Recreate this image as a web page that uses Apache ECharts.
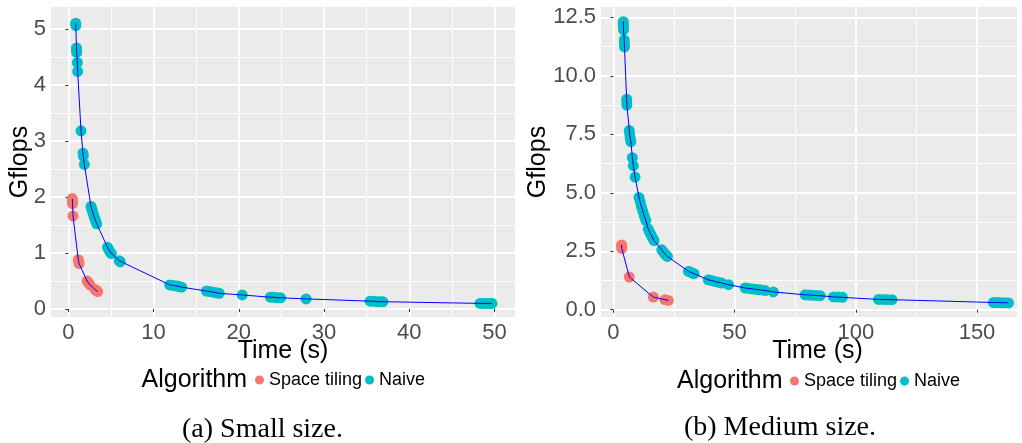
<!DOCTYPE html>
<html>
<head>
<meta charset="utf-8">
<script src="https://cdn.jsdelivr.net/npm/echarts@6/dist/echarts.min.js"></script>
<style>
  html, body { margin: 0; padding: 0; background: #ffffff; }
  #chart { width: 1022px; height: 443px; }
</style>
</head>
<body>
<div id="chart"></div>
<script>
// Algorithms shown in both panels
const seriesNames = ['Space tiling', 'Naive'];

// Small problem size: [time (s), Gflops]
const smallSpaceTiling = [
  [0.47, 1.97], [0.48, 1.93], [0.50, 1.88], [0.55, 1.66],
  [1.17, 0.88], [1.22, 0.85], [1.27, 0.81],
  [2.20, 0.50], [2.36, 0.47], [2.54, 0.43],
  [3.13, 0.35], [3.30, 0.33], [3.45, 0.31]
];
const smallNaive = [
  [0.87, 5.10], [0.88, 5.06],
  [0.96, 4.66], [0.97, 4.62], [0.98, 4.58],
  [1.06, 4.40], [1.10, 4.24],
  [1.49, 3.18],
  [1.72, 2.78], [1.76, 2.73], [1.88, 2.58],
  [2.66, 1.83], [2.74, 1.79], [2.84, 1.74], [2.94, 1.69], [3.04, 1.64], [3.14, 1.60], [3.24, 1.56], [3.33, 1.52],
  [4.60, 1.10], [4.75, 1.06], [4.89, 1.02], [5.05, 0.99],
  [5.98, 0.86], [6.10, 0.84],
  [11.9, 0.43], [12.3, 0.42], [12.7, 0.41], [13.0, 0.40], [13.3, 0.39],
  [16.2, 0.32], [16.6, 0.31], [17.0, 0.30], [17.4, 0.29], [17.7, 0.28],
  [20.4, 0.25],
  [23.7, 0.21], [24.1, 0.21], [24.5, 0.20], [24.9, 0.20],
  [27.9, 0.18],
  [35.4, 0.14], [35.8, 0.14], [36.2, 0.13], [36.6, 0.13], [36.9, 0.13],
  [48.3, 0.10], [48.7, 0.10], [49.1, 0.10], [49.5, 0.10], [49.7, 0.10]
];

// Medium problem size: [time (s), Gflops]
const mediumSpaceTiling = [
  [3.40, 2.77], [3.45, 2.70], [3.50, 2.62],
  [6.60, 1.40],
  [16.5, 0.54],
  [21.3, 0.43], [22.7, 0.40]
];
const mediumNaive = [
  [4.13, 12.31], [4.15, 12.19], [4.18, 12.07], [4.20, 11.96],
  [4.50, 11.53], [4.55, 11.38], [4.60, 11.24],
  [5.50, 9.00], [5.55, 8.88], [5.60, 8.75],
  [6.60, 7.66], [6.75, 7.51], [6.95, 7.35], [7.25, 7.19],
  [7.85, 6.50], [8.25, 6.16], [8.96, 5.67],
  [10.6, 4.80], [11.1, 4.60], [11.6, 4.40], [12.2, 4.20], [12.8, 4.00], [13.4, 3.82],
  [14.4, 3.45], [15.0, 3.31], [15.6, 3.19], [16.2, 3.07], [16.8, 2.96],
  [20.0, 2.56], [20.6, 2.47], [21.2, 2.39], [21.8, 2.32], [22.3, 2.28],
  [31.0, 1.64], [31.8, 1.61], [32.6, 1.57], [33.3, 1.54],
  [39.2, 1.28], [40.5, 1.25], [41.8, 1.21], [43.2, 1.18], [44.7, 1.14],
  [47.5, 1.07],
  [54.4, 0.93], [56.0, 0.91], [57.5, 0.89], [59.0, 0.87], [60.6, 0.85],
  [62.6, 0.82], [66.0, 0.76],
  [79.1, 0.64], [80.6, 0.63], [82.1, 0.62], [83.7, 0.61], [85.3, 0.60],
  [90.8, 0.55], [92.6, 0.54], [94.5, 0.53],
  [109.4, 0.44], [111.2, 0.44], [113.0, 0.43], [114.9, 0.43],
  [156.8, 0.31], [158.4, 0.31], [160.0, 0.30], [161.6, 0.30], [163.0, 0.29]
];

// Tick and gridline positions
const smallXTicks = [0, 10, 20, 30, 40, 50];
const smallXMinor = [5, 15, 25, 35, 45];
const smallYTicks = [0, 1, 2, 3, 4, 5];
const smallYMinor = [0.5, 1.5, 2.5, 3.5, 4.5];
const mediumXTicks = [0, 50, 100, 150];
const mediumXMinor = [25, 75, 125];
const mediumYTicks = [0, 2.5, 5, 7.5, 10, 12.5];
const mediumYMinor = [1.25, 3.75, 6.25, 8.75, 11.25];

const pointColors = ['#F8766D', '#00BFC4'];
const lineColor = '#0000FF';
const sansFont = '"Liberation Sans", Arial, Helvetica, sans-serif';
const serifFont = '"Liberation Serif", "Times New Roman", serif';

function majorAxis(gridIndex, min, max, ticks, formatter, extra) {
  return Object.assign({
    type: 'value',
    gridIndex: gridIndex,
    min: min,
    max: max,
    nameMoveOverlap: false,
    axisLine: { show: false },
    axisTick: {
      show: true, length: 3, customValues: ticks,
      lineStyle: { color: '#333333', width: 1 }
    },
    axisLabel: {
      customValues: ticks, formatter: formatter,
      color: '#4D4D4D', fontSize: 22, fontFamily: sansFont, margin: 5
    },
    splitLine: { show: true, customValues: ticks, lineStyle: { color: '#FFFFFF', width: 1.8 } }
  }, extra || {});
}

function minorAxis(gridIndex, min, max, ticks, position) {
  return {
    type: 'value',
    gridIndex: gridIndex,
    position: position,
    min: min,
    max: max,
    axisLine: { show: false },
    axisTick: { show: false, customValues: ticks },
    axisLabel: { show: false, customValues: ticks },
    splitLine: { show: true, customValues: ticks, lineStyle: { color: '#FFFFFF', width: 0.9 } }
  };
}

const intLabel = v => String(Math.round(v));
const oneDecimal = v => v.toFixed(1);

const axisTitleStyle = { color: '#000000', fontSize: 25, fontFamily: sansFont };

function scatterSeries(name, data, color, xi, yi) {
  return {
    name: name, type: 'scatter', data: data,
    xAxisIndex: xi, yAxisIndex: yi,
    symbol: 'circle', symbolSize: 11,
    itemStyle: { color: color, opacity: 1 },
    z: 2, silent: true
  };
}
function pathSeries(name, data, xi, yi) {
  return {
    name: name, type: 'line', data: data,
    xAxisIndex: xi, yAxisIndex: yi,
    symbol: 'none', showSymbol: false,
    lineStyle: { color: lineColor, width: 1 },
    z: 3, silent: true, animation: false
  };
}

const chart = echarts.init(document.getElementById('chart'), null, { renderer: 'canvas' });

chart.setOption({
  animation: false,
  backgroundColor: '#FFFFFF',
  textStyle: { fontFamily: sansFont },
  grid: [
    { left: 51, top: 7, width: 464, height: 310, show: true, backgroundColor: '#EBEBEB', borderWidth: 0, containLabel: false },
    { left: 601, top: 7, width: 416, height: 310, show: true, backgroundColor: '#EBEBEB', borderWidth: 0, containLabel: false }
  ],
  xAxis: [
    majorAxis(0, -2.03, 52.4, smallXTicks, intLabel, {
      position: 'bottom', name: 'Time (s)', nameLocation: 'middle', nameGap: 22, nameTextStyle: axisTitleStyle
    }),
    minorAxis(0, -2.03, 52.4, smallXMinor, 'top'),
    majorAxis(1, -5.08, 166.5, mediumXTicks, intLabel, {
      position: 'bottom', name: 'Time (s)', nameLocation: 'middle', nameGap: 22,
      nameTextStyle: Object.assign({}, axisTitleStyle, { padding: [0, 0, 0, 17] })
    }),
    minorAxis(1, -5.08, 166.5, mediumXMinor, 'top')
  ],
  yAxis: [
    majorAxis(0, -0.143, 5.39, smallYTicks, intLabel, {
      position: 'left', name: 'Gflops', nameLocation: 'middle', nameRotate: 90, nameGap: 18, nameTextStyle: axisTitleStyle
    }),
    minorAxis(0, -0.143, 5.39, smallYMinor, 'right'),
    majorAxis(1, -0.31, 12.94, mediumYTicks, oneDecimal, {
      position: 'left', name: 'Gflops', nameLocation: 'middle', nameRotate: 90, nameGap: 50, nameTextStyle: axisTitleStyle
    }),
    minorAxis(1, -0.31, 12.94, mediumYMinor, 'right')
  ],
  legend: [
    {
      data: seriesNames, left: 255, top: 371, orient: 'horizontal',
      icon: 'circle', itemWidth: 9, itemHeight: 9, itemGap: 3, padding: 0,
      textStyle: { fontSize: 18, color: '#000000', fontFamily: sansFont }
    },
    {
      data: seriesNames, left: 790, top: 372, orient: 'horizontal',
      icon: 'circle', itemWidth: 9, itemHeight: 9, itemGap: 3, padding: 0,
      textStyle: { fontSize: 18, color: '#000000', fontFamily: sansFont }
    }
  ],
  graphic: [
    { type: 'text', x: 141.5, y: 380, silent: true,
      style: { text: 'Algorithm', font: '25px ' + sansFont, fill: '#000000', align: 'left', verticalAlign: 'middle', textAlign: 'left', textVerticalAlign: 'middle' } },
    { type: 'text', x: 677, y: 381.5, silent: true,
      style: { text: 'Algorithm', font: '25px ' + sansFont, fill: '#000000', align: 'left', verticalAlign: 'middle', textAlign: 'left', textVerticalAlign: 'middle' } },
    { type: 'text', x: 262.5, y: 430, silent: true,
      style: { text: '(a) Small size.', font: '28px ' + serifFont, fill: '#000000', align: 'center', verticalAlign: 'middle', textAlign: 'center', textVerticalAlign: 'middle' } },
    { type: 'text', x: 780, y: 428, silent: true,
      style: { text: '(b) Medium size.', font: '28px ' + serifFont, fill: '#000000', align: 'center', verticalAlign: 'middle', textAlign: 'center', textVerticalAlign: 'middle' } }
  ],
  series: [
    scatterSeries(seriesNames[0], smallSpaceTiling, pointColors[0], 0, 0),
    scatterSeries(seriesNames[1], smallNaive, pointColors[1], 0, 0),
    pathSeries('Space tiling path (small)', smallSpaceTiling, 0, 0),
    pathSeries('Naive path (small)', smallNaive, 0, 0),
    scatterSeries(seriesNames[0], mediumSpaceTiling, pointColors[0], 2, 2),
    scatterSeries(seriesNames[1], mediumNaive, pointColors[1], 2, 2),
    pathSeries('Space tiling path (medium)', mediumSpaceTiling, 2, 2),
    pathSeries('Naive path (medium)', mediumNaive, 2, 2)
  ]
});
</script>
</body>
</html>
